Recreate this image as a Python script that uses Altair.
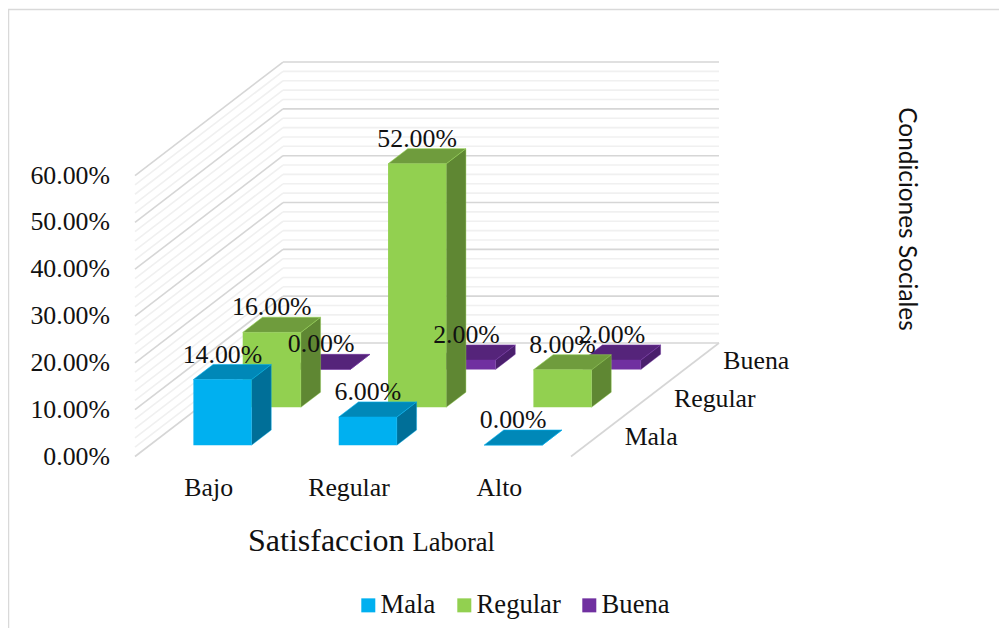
import altair as alt
import pandas as pd

# ---- values ----
categories = ["Bajo", "Regular", "Alto"]
series = ["Mala", "Regular", "Buena"]
mala = [14.0, 6.0, 0.0]
regular = [16.0, 52.0, 8.0]
buena = [0.0, 2.0, 2.0]
y_ticks = [0, 10, 20, 30, 40, 50, 60]
minor_ticks = [v for v in range(0, 61, 2) if v % 10 != 0]

front = {"Mala": "#00B0F0", "Regular": "#92D050", "Buena": "#7030A0"}
top = {"Mala": "#0088B8", "Regular": "#6F9C3D", "Buena": "#55247A"}
side = {"Mala": "#006F98", "Regular": "#5F8733", "Buena": "#4A1F6C"}
SERIF = "Liberation Serif"
TXT = "#111111"

# ---- oblique projection (value space -> page pixels) ----
X0, Y0 = 135.0, 456.5
XW, DX, DY, VY = 436.0, 148.0, 113.5, 4.683


def px(c, d):
    return X0 + XW * c / 3 + DX * d / 3


def py(d, v):
    return Y0 - DY * d / 3 - VY * v


B0, B1 = 0.3, 0.7
vals = {"Mala": mala, "Regular": regular, "Buena": buena}

X = alt.X("x:Q", scale=alt.Scale(domain=[8, 999], zero=False, nice=False), axis=None)
Y = alt.Y("y:Q", scale=alt.Scale(domain=[8, 628], zero=False, nice=False, reverse=True), axis=None)
X2 = alt.X2("x2:Q")
Y2 = alt.Y2("y2:Q")


def rules(rows, color, width):
    return alt.Chart(pd.DataFrame(rows)).mark_rule(color=color, strokeWidth=width).encode(
        x=X, y=Y, x2=X2, y2=Y2
    )


def wall(vs):
    rows = []
    for v in vs:
        rows.append(dict(x=px(0, 0), y=py(0, v), x2=px(0, 3), y2=py(3, v)))
        rows.append(dict(x=px(0, 3), y=py(3, v), x2=px(3, 3), y2=py(3, v)))
    return rows


layers = []
# frame
layers.append(rules([dict(x=999, y=9.5, x2=8, y2=9.5), dict(x=8.5, y=9.5, x2=8.5, y2=628)], "#D9D9D9", 1.5))
# walls and floor edge
layers.append(rules(wall(minor_ticks), "#F0F0F0", 1.6))
layers.append(rules(wall(y_ticks), "#D6D6D6", 1.6))
layers.append(rules([dict(x=px(3, 0), y=py(0, 0), x2=px(3, 3), y2=py(3, 0))], "#D6D6D6", 1.6))

color = alt.Color(
    "s:N",
    scale=alt.Scale(domain=series, range=[front[s] for s in series]),
    legend=alt.Legend(
        title=None, orient="none", legendX=347, legendY=584, direction="horizontal",
        symbolType="square", symbolSize=196, symbolStrokeWidth=0, padding=0,
        labelFont=SERIF, labelFontSize=26.6, labelColor=TXT, labelOffset={"expr": "-1"},
        columnPadding=15, labelLimit=200,
    ),
)

# bars, painted from the back row to the front row
for j in [2, 1, 0]:
    s = series[j]
    tops, sides, fronts = [], [], []
    for i, v in enumerate(vals[s]):
        a, b = i + B0, i + B1
        d0, d1 = j + B0, j + B1
        tops += [
            dict(k=i, y=py(d0, v), x=px(a, d0), x2=px(b, d0)),
            dict(k=i, y=py(d1, v), x=px(a, d1), x2=px(b, d1)),
        ]
        sides += [
            dict(k=i, x=px(b, d0), y=py(d0, v), y2=py(d0, 0)),
            dict(k=i, x=px(b, d1), y=py(d1, v), y2=py(d1, 0)),
        ]
        fronts.append(dict(s=s, x=px(a, d0), x2=px(b, d0), y=py(d0, v), y2=py(d0, 0)))
    layers.append(
        alt.Chart(pd.DataFrame(sides)).mark_area(orient="vertical", color=side[s], stroke=front[s], strokeWidth=0.4)
        .encode(x=X, y=Y, y2=Y2, detail="k:N")
    )
    layers.append(
        alt.Chart(pd.DataFrame(tops)).mark_area(orient="horizontal", color=top[s], stroke=front[s], strokeWidth=0.6)
        .encode(x=X, x2=X2, y=Y, detail="k:N")
    )
    layers.append(
        alt.Chart(pd.DataFrame(fronts)).mark_rect().encode(x=X, x2=X2, y=Y, y2=Y2, color=color)
    )


def texts(rows, size=25.8, align="center", font=SERIF, **kw):
    return alt.Chart(pd.DataFrame(rows)).mark_text(
        font=font, fontSize=size, align=align, baseline="alphabetic", color=TXT, **kw
    ).encode(x=X, y=Y, text="t:N")


# value labels
labels = []
for j, s in enumerate(series):
    for i, v in enumerate(vals[s]):
        labels.append(dict(
            x=px(i + 0.5, j + B0), y=py(j + B0, v) - 17, t=f"{v:.2f}%"
        ))
layers.append(texts(labels))

# value axis
layers.append(texts([dict(x=110, y=py(0, v) + 8, t=f"{v:.2f}%") for v in y_ticks], align="right"))
# category axis
cat_nudge = [1, -4, 1]
layers.append(texts([dict(x=px(i + 0.5, 0) + cat_nudge[i], y=496, t=c) for i, c in enumerate(categories)]))
# depth axis
layers.append(texts([
    dict(x=px(3, j + 0.5) + 29, y=py(j + 0.5, 0) + 7.5, t=s) for j, s in enumerate(series)
], align="left"))
# titles
layers.append(texts([dict(x=248, y=551, t="Satisfaccion")], size=32, align="left"))
layers.append(texts([dict(x=412.5, y=551, t="Laboral")], size=26.5, align="left"))
layers.append(
    alt.Chart(pd.DataFrame([dict(x=899, y=219, t="Condiciones Sociales")])).mark_text(
        font="Lato", fontSize=24.4, angle=90, align="center", baseline="alphabetic", color=TXT
    ).encode(x=X, y=Y, text="t:N")
)

chart = alt.layer(*layers).properties(
    width=991, height=620, padding=0, autosize=alt.AutoSizeParams(type="none"), background="white"
).configure_view(stroke=None)

chart.save("out.html", embed_options={"renderer": "svg", "actions": False})
